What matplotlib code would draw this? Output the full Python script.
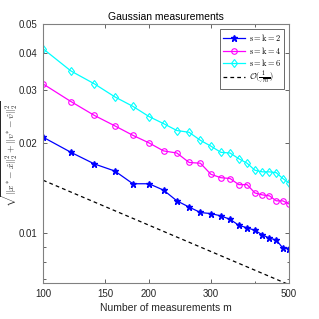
import matplotlib
matplotlib.use("Agg")
import matplotlib.pyplot as plt
from matplotlib.ticker import FixedLocator, NullFormatter

plt.rcParams["font.family"] = ["Liberation Sans", "DejaVu Sans"]
plt.rcParams["mathtext.fontset"] = "cm"

# measurements m
m = [100, 120, 140, 160, 180, 200, 220, 240, 260, 280, 300,
     320, 340, 360, 380, 400, 420, 440, 460, 480, 500]

err_k2 = [0.0209, 0.0186, 0.0170, 0.0161, 0.0146, 0.0146, 0.0139, 0.0128,
          0.0122, 0.0117, 0.0116, 0.0114, 0.0111, 0.0106, 0.0104, 0.0102,
          0.00985, 0.0096, 0.00947, 0.0089, 0.00886]
err_k4 = [0.0315, 0.0275, 0.0247, 0.0228, 0.0212, 0.0200, 0.0188, 0.0185,
          0.0172, 0.0171, 0.0157, 0.0153, 0.0152, 0.0145, 0.0145, 0.0136,
          0.0134, 0.0133, 0.0128, 0.0128, 0.0125]
err_k6 = [0.0413, 0.0348, 0.0315, 0.0285, 0.0265, 0.0245, 0.0232, 0.0220,
          0.0217, 0.0204, 0.0195, 0.0186, 0.0185, 0.0177, 0.0171, 0.0162,
          0.0160, 0.0160, 0.0159, 0.0152, 0.0147]

# reference slope line endpoints
ref_m = [100, 500]
ref_err = [0.0150, 0.00671]

xticks = [100, 150, 200, 300, 500]
yticks = [0.01, 0.02, 0.03, 0.04, 0.05]

fig = plt.figure(figsize=(3.19, 3.19), dpi=100)
ax = fig.add_axes([0.135, 0.113, 0.771, 0.812])

ax.plot(m, err_k2, color="blue", lw=0.9, marker="*", ms=5, label=r"$\mathrm{s{=}k{=}2}$")
ax.plot(m, err_k4, color="magenta", lw=0.9, marker="o", ms=4, mfc="none", mew=0.8,
        label=r"$\mathrm{s{=}k{=}4}$")
ax.plot(m, err_k6, color="cyan", lw=0.9, marker="d", ms=4.5, mfc="none", mew=0.8,
        label=r"$\mathrm{s{=}k{=}6}$")
ax.plot(ref_m, ref_err, color="black", lw=0.9, ls="--", dashes=(3, 2.5),
        label=r"$\mathcal{O}(\frac{1}{\sqrt{m}})$")

ax.set_xscale("log")
ax.set_yscale("log")
ax.set_xlim(100, 500)
ax.set_ylim(0.0068, 0.05)

ax.xaxis.set_major_locator(FixedLocator(xticks))
ax.set_xticklabels([str(v) for v in xticks])
ax.xaxis.set_minor_formatter(NullFormatter())
ax.yaxis.set_major_locator(FixedLocator(yticks))
ax.set_yticklabels([f"{v:g}" for v in yticks])
ax.yaxis.set_minor_formatter(NullFormatter())

ax.tick_params(which="both", direction="in", top=True, right=True,
               labelsize=7, colors="#262626", width=0.5)
ax.tick_params(which="major", length=3, pad=4)
ax.tick_params(which="minor", length=1.8)
for sp in ax.spines.values():
    sp.set_color("#808080")
    sp.set_linewidth(0.8)

ax.set_title("Gaussian measurements", fontsize=7.5, pad=3)
ax.set_xlabel("Number of measurements m", fontsize=7.5, labelpad=3, color="#262626")
ax.set_ylabel(r"$\sqrt{\|x^{*}-\hat{x}\|_2^2+\|v^{*}-\hat{v}\|_2^2}$",
              fontsize=7, color="#262626")
ax.yaxis.set_label_coords(-0.092, 0.5)

leg = ax.legend(loc="upper right", fontsize=6, frameon=True, fancybox=False,
                handlelength=2.6, handletextpad=0.5, borderpad=0.35,
                labelspacing=0.2, borderaxespad=0.6)
leg.get_frame().set_edgecolor("#262626")
leg.get_frame().set_linewidth(0.6)

fig.savefig("out.png", dpi=100)
